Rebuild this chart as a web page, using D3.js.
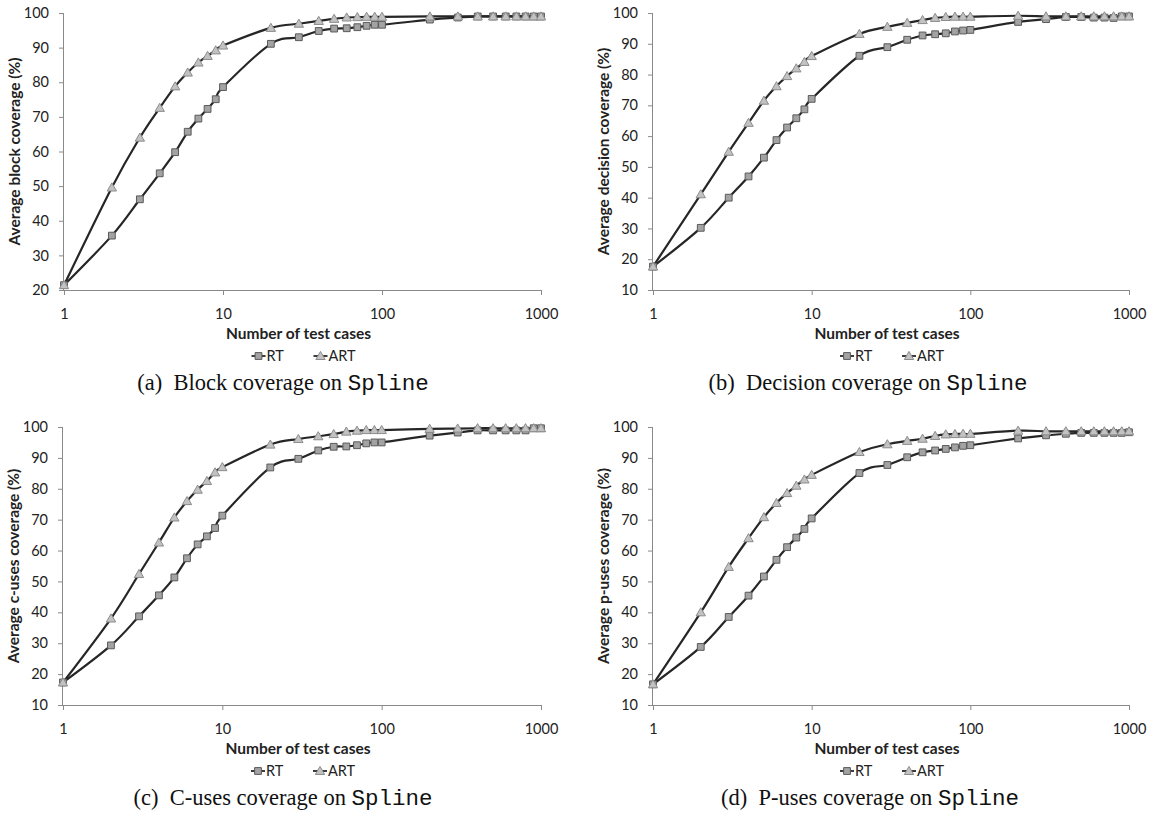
<!DOCTYPE html>
<html><head><meta charset="utf-8">
<script src="https://cdn.jsdelivr.net/npm/d3@7"></script>
<style>body{margin:0;background:#fff} svg{display:block}</style>
</head><body>
<svg id="chart" width="1155" height="816"></svg>
<script>
// ---- data ----
const xValues = [1,2,3,4,5,6,7,8,9,10,20,30,40,50,60,70,80,90,100,200,300,400,500,600,700,800,900,1000];
const xTickValues = [1,10,100,1000];
const seriesNames = ["RT","ART"];

const blockRT  = [21.4,35.7,46.2,53.7,59.8,65.7,69.5,72.3,75.1,78.6,91.1,93.0,94.8,95.5,95.6,95.9,96.3,96.6,96.6,98.1,98.7,99.0,99.0,99.0,99.0,99.0,99.0,99.0];
const blockART = [21.4,49.6,64.0,72.6,78.8,82.8,85.7,87.6,89.2,90.6,95.7,96.9,97.7,98.3,98.7,98.8,98.9,98.9,98.9,99.0,99.0,99.0,99.0,99.0,99.0,99.0,99.0,99.0];

const decisionRT  = [17.6,30.2,40.0,46.9,53.0,58.7,62.8,65.8,68.7,72.1,86.1,88.9,91.3,92.7,93.1,93.4,94.0,94.3,94.5,97.1,98.0,98.7,98.7,98.5,98.5,98.4,98.9,98.9];
const decisionART = [17.6,41.1,54.9,64.3,71.5,76.2,79.5,82.0,84.1,86.0,93.2,95.5,96.8,97.7,98.4,98.7,98.8,98.8,98.8,99.1,98.9,98.9,98.9,98.9,98.9,98.9,98.9,98.9];

const cusesRT  = [17.3,29.3,38.7,45.5,51.3,57.5,62.0,64.6,67.3,71.3,86.9,89.7,92.4,93.6,93.7,94.1,94.7,95.0,95.0,97.2,98.2,98.9,98.9,98.9,98.9,98.9,99.6,99.6];
const cusesART = [17.3,38.0,52.4,62.6,70.7,76.0,79.7,82.5,85.3,87.0,94.3,96.1,97.0,97.7,98.5,98.8,99.0,99.0,99.0,99.4,99.5,99.6,99.6,99.6,99.6,99.6,99.6,99.6];

const pusesRT  = [16.7,28.8,38.5,45.4,51.6,57.0,61.1,64.2,67.0,70.4,85.1,87.7,90.2,91.8,92.4,92.9,93.4,93.9,94.1,96.3,97.3,97.8,98.1,98.1,98.1,98.1,98.1,98.3];
const pusesART = [16.7,40.0,54.7,64.0,70.8,75.4,78.6,81.0,83.0,84.5,91.9,94.4,95.5,96.2,97.1,97.6,97.7,97.8,97.8,98.8,98.6,98.6,98.6,98.6,98.6,98.6,98.6,98.6];

const yTicksBlock = [20,30,40,50,60,70,80,90,100];
const yTicksOther = [10,20,30,40,50,60,70,80,90,100];

const yLabels = ["Average block coverage (%)","Average decision coverage (%)","Average c-uses coverage (%)","Average p-uses coverage (%)"];
const captionTags = ["(a)","(b)","(c)","(d)"];
const captionTexts = ["Block coverage on ","Decision coverage on ","C-uses coverage on ","P-uses coverage on "];
const captionCode = "Spline";
const xTitle = "Number of test cases";

// ---- layout ----
const panels = [
  {rt: blockRT,    art: blockART,    ticks: yTicksBlock, x0: 64,  x1: 541,  yTop: 13,  yBot: 290, capX: 283},
  {rt: decisionRT, art: decisionART, ticks: yTicksOther, x0: 653, x1: 1129, yTop: 13,  yBot: 290, capX: 868},
  {rt: cusesRT,    art: cusesART,    ticks: yTicksOther, x0: 63,  x1: 541,  yTop: 427, yBot: 705, capX: 283},
  {rt: pusesRT,    art: pusesART,    ticks: yTicksOther, x0: 653, x1: 1129, yTop: 427, yBot: 705, capX: 870}
];

const svg = d3.select("#chart");
const FONT = "Lato, 'Open Sans', sans-serif";
const AXIS = "#8a8a8a";
const LINE = "#262626";
const SQ_FILL = "#a3a3a3", SQ_STROKE = "#5a5a5a";
const TRI_FILL = "#c2c2c2", TRI_STROKE = "#8c8c8c";

const squareSym = d3.symbol().type(d3.symbolSquare).size(46);
const triSym = d3.symbol().type(d3.symbolTriangle).size(38);

function drawMarker(g, type, x, y) {
  if (type === "RT") {
    g.append("path").attr("d", squareSym()).attr("transform", `translate(${x},${y})`)
      .attr("fill", SQ_FILL).attr("stroke", SQ_STROKE).attr("stroke-width", 1);
  } else {
    g.append("path").attr("d", triSym()).attr("transform", `translate(${x},${y+0.8})`)
      .attr("fill", TRI_FILL).attr("stroke", TRI_STROKE).attr("stroke-width", 1);
  }
}

panels.forEach((p, i) => {
  const g = svg.append("g");
  const x = d3.scaleLog().domain([1, 1000]).range([p.x0, p.x1]);
  const y = d3.scaleLinear().domain([p.ticks[0], 100]).range([p.yBot, p.yTop]);

  // y axis
  const yAxis = d3.axisLeft(y).tickValues(p.ticks).tickSize(5).tickPadding(10).tickFormat(d3.format("d"));
  const ya = g.append("g").attr("transform", `translate(${p.x0},0)`).call(yAxis);
  ya.select(".domain").attr("stroke", AXIS).attr("d", `M-0.5,${p.yTop}V${p.yBot}`);
  ya.selectAll(".tick line").attr("stroke", AXIS);
  ya.selectAll(".tick text").attr("font-family", FONT).attr("font-size", 14.5).attr("fill", "#222");

  // x axis
  const xAxis = d3.axisBottom(x).tickValues(xTickValues).tickSize(5).tickPadding(14).tickFormat(d3.format("d"));
  const xa = g.append("g").attr("transform", `translate(0,${p.yBot})`).call(xAxis);
  xa.select(".domain").attr("stroke", AXIS).attr("d", `M${p.x0},0.5H${p.x1}`);
  xa.selectAll(".tick line").attr("stroke", AXIS);
  xa.selectAll(".tick text").attr("font-family", FONT).attr("font-size", 14.5).attr("fill", "#222");

  const cx = (p.x0 + p.x1) / 2;

  // titles
  g.append("text").attr("x", cx - 4).attr("y", p.yBot + 49).attr("text-anchor", "middle")
    .attr("font-family", FONT).attr("font-weight", "bold").attr("font-size", 15.5).attr("fill", "#222")
    .text(xTitle);
  g.append("text").attr("transform", `translate(${p.x0 - 44},${(p.yTop + p.yBot) / 2}) rotate(-90)`)
    .attr("text-anchor", "middle").attr("font-family", FONT).attr("font-weight", "bold")
    .attr("font-size", 15.5).attr("fill", "#222").text(yLabels[i]);

  // lines
  const line = d3.line().x(d => x(d[0])).y(d => y(d[1])).curve(d3.curveCatmullRom.alpha(0));
  const rtData = xValues.map((v, k) => [v, p.rt[k]]);
  const artData = xValues.map((v, k) => [v, p.art[k]]);
  g.append("path").attr("d", line(rtData)).attr("fill", "none").attr("stroke", LINE).attr("stroke-width", 2.2);
  g.append("path").attr("d", line(artData)).attr("fill", "none").attr("stroke", LINE).attr("stroke-width", 2.2);
  rtData.forEach(d => drawMarker(g, "RT", x(d[0]), y(d[1])));
  artData.forEach(d => drawMarker(g, "ART", x(d[0]), y(d[1])));

  // legend
  const ly = p.yBot + 66;
  const legendPos = [cx - 44, cx + 18];
  seriesNames.forEach((name, k) => {
    const mx = legendPos[k];
    g.append("line").attr("x1", mx - 7).attr("x2", mx + 7).attr("y1", ly).attr("y2", ly)
      .attr("stroke", LINE).attr("stroke-width", 1.8);
    drawMarker(g, name, mx, ly);
    g.append("text").attr("x", mx + 8).attr("y", ly + 5).attr("font-family", FONT)
      .attr("font-size", 14.5).attr("fill", "#222").text(name);
  });

  // caption
  const cap = g.append("text").attr("x", p.capX).attr("y", p.yBot + 100).attr("text-anchor", "middle")
    .attr("font-size", 22.5).attr("fill", "#111");
  cap.append("tspan").attr("font-family", "'Liberation Serif', 'Times New Roman', serif").text(captionTags[i] + "\u2002" + captionTexts[i]);
  cap.append("tspan").attr("font-family", "'Liberation Mono', 'Courier New', monospace").text(captionCode);
});
</script>
</body></html>
